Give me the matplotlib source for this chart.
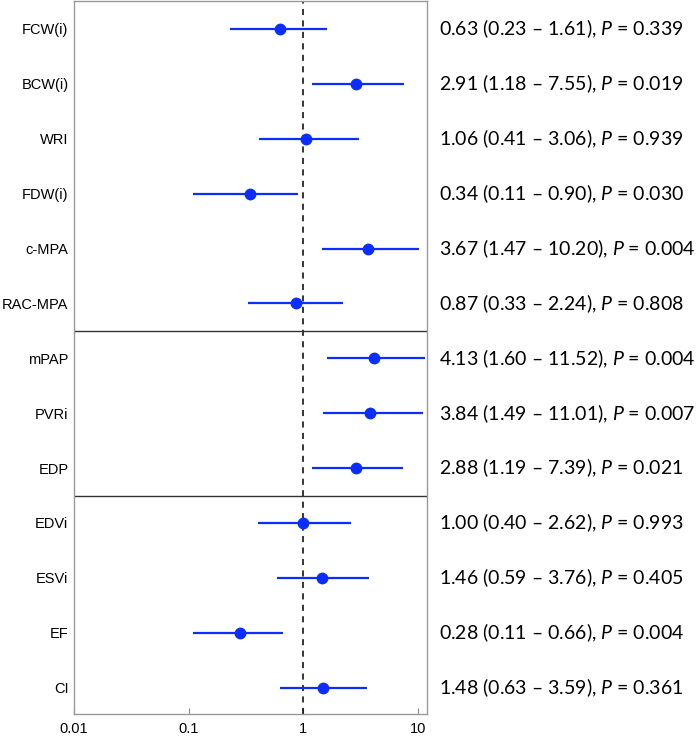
import matplotlib
matplotlib.use('Agg')
import matplotlib.pyplot as plt
import matplotlib.transforms as mtransforms

labels = ['FCW(i)', 'BCW(i)', 'WRI', 'FDW(i)', 'c-MPA', 'RAC-MPA',
          'mPAP', 'PVRi', 'EDP', 'EDVi', 'ESVi', 'EF', 'CI']
est = [0.63, 2.91, 1.06, 0.34, 3.67, 0.87, 4.13, 3.84, 2.88, 1.00, 1.46, 0.28, 1.48]
lo = [0.23, 1.18, 0.41, 0.11, 1.47, 0.33, 1.60, 1.49, 1.19, 0.40, 0.59, 0.11, 0.63]
hi = [1.61, 7.55, 3.06, 0.90, 10.20, 2.24, 11.52, 11.01, 7.39, 2.62, 3.76, 0.66, 3.59]
pvals = ['0.339', '0.019', '0.939', '0.030', '0.004', '0.808',
         '0.004', '0.007', '0.021', '0.993', '0.405', '0.004', '0.361']
group_breaks = [5.5, 8.5]

plt.rcParams['font.family'] = 'Liberation Sans'
plt.rcParams['mathtext.fontset'] = 'custom'
plt.rcParams['mathtext.rm'] = 'Lato'
plt.rcParams['mathtext.it'] = 'Lato:italic'

fig = plt.figure(figsize=(6.99, 7.39), dpi=100)
ax = fig.add_axes([74 / 699, 25 / 739, 353 / 699, 713 / 739])

blue = '#0b2eff'
ys = list(range(len(labels)))
for y, e, l, h in zip(ys, est, lo, hi):
    ax.plot([l, h], [y, y], color=blue, lw=1.6, solid_capstyle='butt', zorder=3)
ax.plot(est, ys, 'o', color=blue, ms=7.5, zorder=4)

ax.axvline(1, color='black', ls=(0, (4, 3.5)), lw=1.1, zorder=2)
for b in group_breaks:
    ax.axhline(b, color='#333333', lw=1.0)

ax.set_xscale('log')
ax.set_xlim(0.01, 12)
ax.set_ylim(12.48, -0.51)
ax.set_xticks([0.01, 0.1, 1, 10])
ax.set_xticklabels(['0.01', '0.1', '1', '10'])
ax.minorticks_off()
ax.set_yticks(ys)
ax.set_yticklabels(labels)
ax.tick_params(axis='y', length=0, pad=4, labelsize=10.5)
ax.tick_params(axis='x', direction='in', length=4, color='#888888', pad=6, labelsize=10.5)
for s in ax.spines.values():
    s.set_color('#999999')
    s.set_linewidth(1.0)

trans = mtransforms.blended_transform_factory(fig.transFigure, ax.transData)
for y, e, l, h, p in zip(ys, est, lo, hi, pvals):
    txt = '%.2f (%.2f \u2013 %.2f), $P$ = %s' % (e, l, h, p)
    ax.text(439 / 699, y, txt, transform=trans, ha='left', va='center',
            fontsize=14, family='Lato', clip_on=False)

fig.savefig('out.png', dpi=100)
